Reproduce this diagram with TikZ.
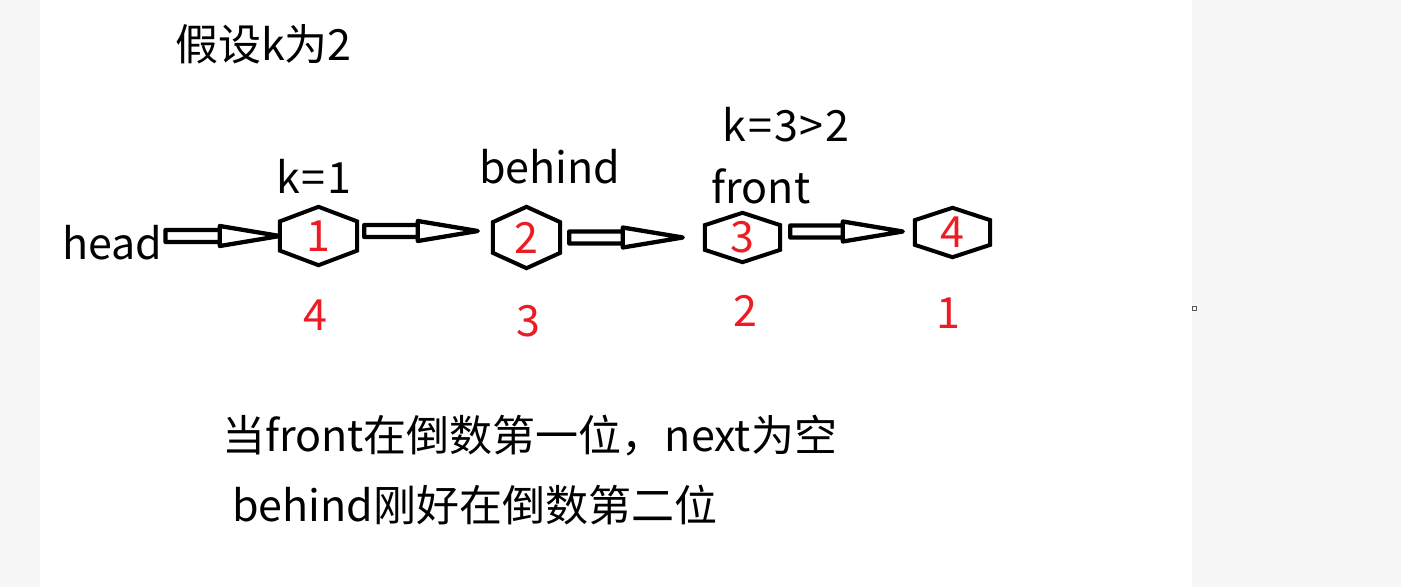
\documentclass[tikz,border=0pt]{standalone}
\usepackage{fontspec}
\setmainfont{Noto Sans CJK SC}
\usepackage{tikz}
\usetikzlibrary{calc}
\definecolor{numred}{RGB}{237,28,36}
\definecolor{pagegray}{RGB}{247,247,247}
\tikzstyle{txt} = [inner sep=0pt, font=\fontsize{43}{43}\selectfont]
\tikzstyle{num} = [txt, text=numred]
\tikzstyle{hexa} = [num, minimum width=75pt, minimum height=49pt, node distance=210pt]
\tikzstyle{hexline} = [draw, line width=4pt, line join=miter]
\tikzstyle{blockarrow} = [draw, fill=white, line width=4.3pt, line join=round, to path={let \p1=(\tikztostart), \p2=(\tikztotarget) in (\x1,\y1+6pt) rectangle (\x2-60pt,\y1-6pt) (\x2-60pt,\y1+10pt) -- (\x2,\y1) -- (\x2-60pt,\y1-10pt) -- cycle}]

\begin{document}
\begin{tikzpicture}[x=1pt, y=-1pt]
\fill [pagegray] (0,0) rectangle (1401,587);
\fill [white] (40,0) rectangle (1192,587);
\useasboundingbox (0,0) rectangle (1401,587);
\draw [black!65, line width=1pt] (1192.5,306.5) rectangle (1196.5,310.5);

\node [txt, anchor=base west] (title) at (175,60) {假设k为2};

\node [hexa, minimum width=77pt, minimum height=58pt] (n1) at (318.5,236) {1};
\node [hexa, right of=n1, node distance=208pt, yshift=-1.5pt, minimum width=67pt, minimum height=61pt] (n2) {2};
\node [hexa, right of=n2, node distance=216pt] (n3) {3};
\node [hexa, right of=n3, yshift=5pt] (n4) {4};

\draw [hexline] (n1.north) -- ($(n1.east)!.5!(n1.north east)$) -- ($(n1.east)!.5!(n1.south east)$) -- (n1.south) -- ($(n1.west)!.5!(n1.south west)$) -- ($(n1.west)!.5!(n1.north west)$) -- cycle;
\draw [hexline] (n2.north) -- ($(n2.east)!.5!(n2.north east)$) -- ($(n2.east)!.5!(n2.south east)$) -- (n2.south) -- ($(n2.west)!.5!(n2.south west)$) -- ($(n2.west)!.5!(n2.north west)$) -- cycle;
\draw [hexline] (n3.north) -- ($(n3.east)!.5!(n3.north east)$) -- ($(n3.east)!.5!(n3.south east)$) -- (n3.south) -- ($(n3.west)!.5!(n3.south west)$) -- ($(n3.west)!.5!(n3.north west)$) -- cycle;
\draw [hexline] (n4.north) -- ($(n4.east)!.5!(n4.north east)$) -- ($(n4.east)!.5!(n4.south east)$) -- (n4.south) -- ($(n4.west)!.5!(n4.south west)$) -- ($(n4.west)!.5!(n4.north west)$) -- cycle;

\node [txt, anchor=base west] (head) at (62,259) {head};
\path [blockarrow] ([xshift=3pt]head.east |- n1.west) to (n1.west);
\path [blockarrow] ([xshift=7pt, yshift=5pt]n1.east) to ([xshift=-15pt]n2.west);
\path [blockarrow] ([xshift=9pt]n2.east) to ([xshift=-22pt]n3.west);
\path [blockarrow] ([xshift=10pt, yshift=6pt]n3.east) to ([xshift=-12pt]n4.west);

\node [txt, anchor=base] (k1) at ($(n1)+(-4.5,-43)$) {k\kern2pt=\kern2pt1};
\node [txt, anchor=base] (behind) at ($(n2)+(23.5,-54.5)$) {behind};
\node [txt, anchor=base] (k3) at ($(n3)+(43.5,-96.5)$) {k\kern2pt=\kern2pt3\kern2pt>\kern2pt2};
\node [txt, anchor=base] (front) at ($(n3)+(18.5,-34.5)$) {front};

\node [num, anchor=base] (r1) at ($(n1)+(-3.5,94)$) {4};
\node [num, anchor=base] (r2) at ($(n2)+(1.5,98.5)$) {3};
\node [num, anchor=base] (r3) at ($(n3)+(2.5,88.5)$) {2};
\node [num, anchor=base] (r4) at ($(n4)+(-4.5,95.5)$) {1};

\node [txt, anchor=base west] (line1) at (222,451) {当front在倒数第一位，next为空};
\node [txt, anchor=base west] (line2) at (232,521) {behind刚好在倒数第二位};
\end{tikzpicture}
\end{document}
